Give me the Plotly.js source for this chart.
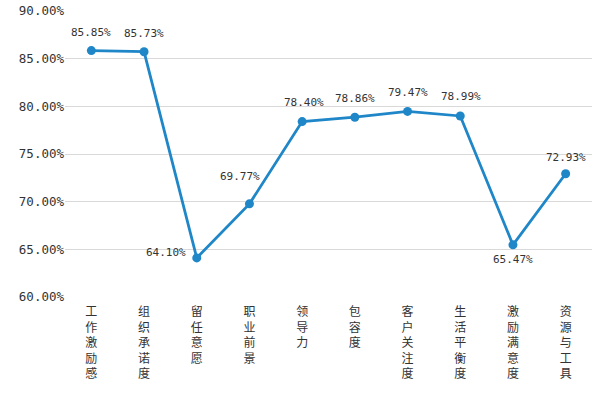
<!DOCTYPE html>
<html><head><meta charset="utf-8">
<script src="https://cdn.plot.ly/plotly-3.0.1.min.js"></script>
<style>html,body{margin:0;padding:0;background:#fff}#c{width:600px;height:393px}</style>
</head><body><div id="c"></div>
<script>
const categories = ["工作激励感","组织承诺度","留任意愿","职业前景","领导力","包容度","客户关注度","生活平衡度","激励满意度","资源与工具"];
const values = [85.85, 85.73, 64.10, 69.77, 78.40, 78.86, 79.47, 78.99, 65.47, 72.93];
const yTicks = [60, 65, 70, 75, 80, 85, 90];
const yTickText = ["60.00%","65.00%","70.00%","75.00%","80.00%","85.00%","90.00%"];

// label offsets (style, not data)
const labelShift = [[0,18],[0,18],[-31,5],[-9,27],[2,19],[0,19],[0,19],[1,19],[0,-15],[0,16]];

const tickText = categories.map(c => c.split('').join('<br>'));
const numFont = {family: 'DejaVu Sans Mono, Liberation Mono, monospace', size: 11, color: '#333'};

const annotations = values.map((v, i) => ({
  x: i, y: v, xref: 'x', yref: 'y',
  text: v.toFixed(2) + '%', showarrow: false,
  xshift: labelShift[i][0], yshift: labelShift[i][1],
  font: numFont
}));

const trace = {
  x: categories, y: values, type: 'scatter', mode: 'lines+markers',
  line: {color: '#1f86c8', width: 2.8},
  marker: {color: '#1f86c8', size: 9},
  cliponaxis: false, hoverinfo: 'skip'
};

const layout = {
  width: 600, height: 393,
  margin: {l: 65, r: 8, t: 11, b: 96},
  paper_bgcolor: '#fff', plot_bgcolor: '#fff',
  showlegend: false,
  xaxis: {
    type: 'category', range: [-0.5, 9.5], tickvals: categories, ticktext: tickText,
    showgrid: false, showline: false, zeroline: false, ticks: '',
    ticklabelstandoff: 6,
    tickfont: {family: 'Noto Sans CJK SC', size: 12, color: '#333'}
  },
  yaxis: {
    range: [60, 90], tickvals: yTicks, ticktext: yTickText,
    showgrid: true, gridcolor: '#d9d9d9', gridwidth: 1,
    showline: false, zeroline: false, ticks: '',
    tickfont: {family: 'DejaVu Sans Mono, Liberation Mono, monospace', size: 12.5, color: '#333'}
  },
  annotations: annotations
};

Plotly.newPlot('c', [trace], layout, {displayModeBar: false, staticPlot: true});
</script></body></html>
